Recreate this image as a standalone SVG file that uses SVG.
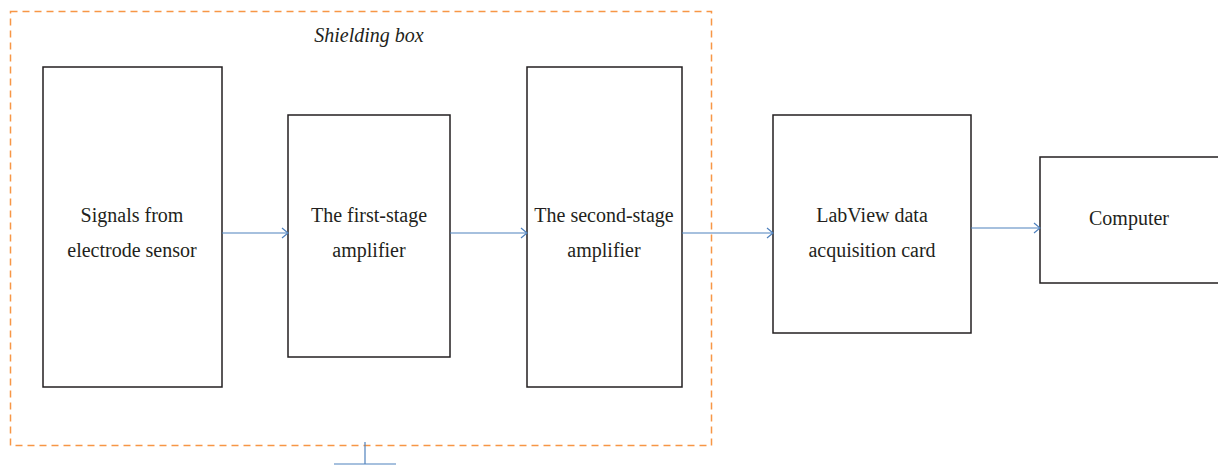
<svg xmlns="http://www.w3.org/2000/svg" width="1218" height="466" viewBox="0 0 1218 466">
<style>
.box{fill:#fff;stroke:#231f20;stroke-width:1.5}
.t{font-family:"Liberation Serif",serif;font-size:20px;fill:#231f20;text-anchor:middle}
.c{stroke:#4f81bd;stroke-width:1.2;fill:none}
</style>
<defs>
<marker id="ah" markerWidth="12" markerHeight="12" refX="9" refY="6" orient="auto" markerUnits="userSpaceOnUse">
<path d="M3,1 L9,6 L3,11" fill="none" stroke="#4f81bd" stroke-width="1.2"/>
</marker>
</defs>
<rect x="10.5" y="11.5" width="701" height="434" fill="none" stroke="#f79646" stroke-width="1.5" stroke-dasharray="7,5"/>
<text class="t" x="369" y="42" font-style="italic" font-size="19">Shielding box</text>
<g id="n1"><rect class="box" x="43" y="67" width="179" height="320"/><text class="t" x="132" y="222">Signals from</text><text class="t" x="132" y="257">electrode sensor</text></g>
<g id="n2"><rect class="box" x="288" y="115" width="162" height="242"/><text class="t" x="369" y="222">The first-stage</text><text class="t" x="369" y="257">amplifier</text></g>
<g id="n3"><rect class="box" x="527" y="67" width="155" height="320"/><text class="t" x="604" y="222">The second-stage</text><text class="t" x="604" y="257">amplifier</text></g>
<g id="n4"><rect class="box" x="773" y="115" width="198" height="218"/><text class="t" x="872" y="222">LabView data</text><text class="t" x="872" y="257">acquisition card</text></g>
<g id="n5"><rect class="box" x="1040" y="157" width="180" height="126"/><text class="t" x="1129" y="225">Computer</text></g>
<g id="connectors">
<line class="c" x1="222" y1="233" x2="288" y2="233" marker-end="url(#ah)"/>
<line class="c" x1="450" y1="233" x2="527" y2="233" marker-end="url(#ah)"/>
<line class="c" x1="682" y1="233" x2="773" y2="233" marker-end="url(#ah)"/>
<line class="c" x1="971" y1="228" x2="1040" y2="228" marker-end="url(#ah)"/>
<line class="c" x1="365" y1="442" x2="365" y2="464"/>
<line class="c" x1="334" y1="464" x2="396" y2="464"/>
</g>
</svg>
